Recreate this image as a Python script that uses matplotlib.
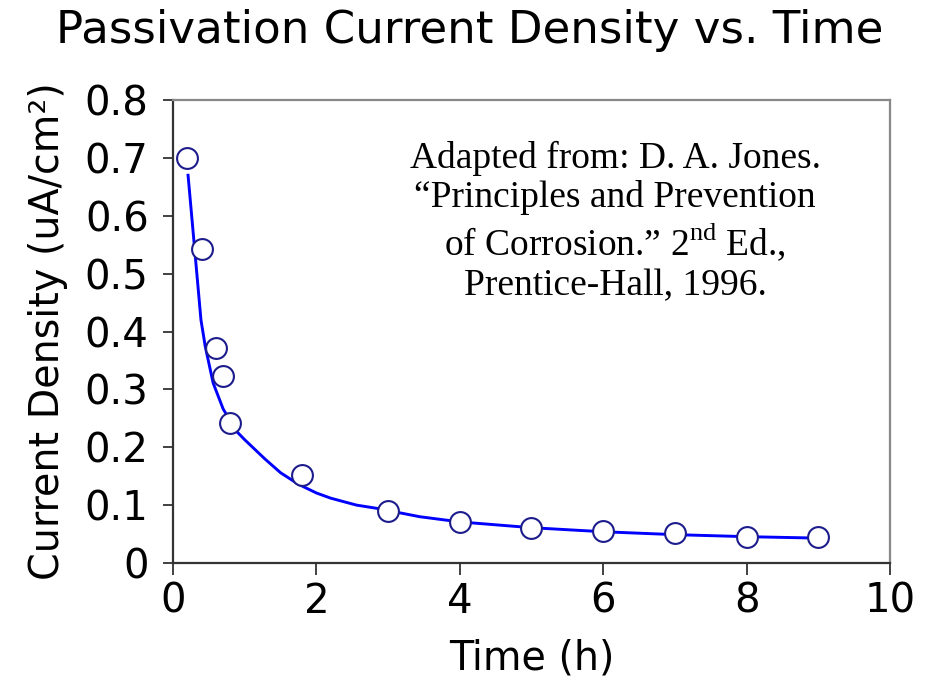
import matplotlib
matplotlib.use("Agg")
import matplotlib.pyplot as plt

# Measured data points
time_h = [0.2, 0.4, 0.6, 0.7, 0.8, 1.8, 3, 4, 5, 6, 7, 8, 9]
current = [0.70, 0.543, 0.371, 0.323, 0.242, 0.152, 0.090, 0.071, 0.061, 0.056, 0.051, 0.0455, 0.0455]

# Fitted curve
fit_x = [0.21, 0.39, 0.45, 0.56, 0.70, 0.89, 1.0, 1.28, 1.5, 1.75, 2.0, 2.2, 2.56, 2.84, 3.44, 4, 5, 6, 7, 8, 9]
fit_y = [0.670, 0.420, 0.374, 0.311, 0.266, 0.227, 0.213, 0.180, 0.156, 0.136, 0.121, 0.112, 0.100, 0.0945, 0.080, 0.071, 0.061, 0.054, 0.049, 0.0455, 0.043]

x_ticks = [0, 2, 4, 6, 8, 10]
y_ticks = [0, 0.1, 0.2, 0.3, 0.4, 0.5, 0.6, 0.7, 0.8]
y_tick_labels = ["0", "0.1", "0.2", "0.3", "0.4", "0.5", "0.6", "0.7", "0.8"]

plt.rcParams['mathtext.fontset'] = 'custom'
plt.rcParams['mathtext.rm'] = 'Liberation Serif'

fig = plt.figure(figsize=(9.28, 6.78), dpi=100)
ax = fig.add_axes([173/928, 1 - 563/678, (890 - 173)/928, (563 - 100)/678])

ax.plot(fit_x, fit_y, color='#0000ff', lw=2.1, zorder=2)
ax.plot(time_h, current, linestyle='none', marker='o', ms=15, mfc='white',
        mec='#1c1c8c', mew=1.5, zorder=3)

ax.set_xlim(0, 10)
ax.set_ylim(0, 0.8)
ax.set_xticks(x_ticks)
ax.set_xticklabels([str(t) for t in x_ticks])
ax.set_yticks(y_ticks)
ax.set_yticklabels(y_tick_labels)

for s in ['left', 'bottom']:
    ax.spines[s].set_color('#333333')
    ax.spines[s].set_linewidth(1.6)
for s in ['top', 'right']:
    ax.spines[s].set_color('#888888')
    ax.spines[s].set_linewidth(1.6)

ax.tick_params(axis='both', which='both', direction='out', color='#333333', width=1.3,
               labelsize=29, top=False, right=False)
ax.tick_params(axis='y', length=7.5, pad=10)
ax.tick_params(axis='x', length=8.5, pad=5)

ax.set_xlabel("Time (h)", fontsize=28.5, labelpad=12)
ax.set_ylabel("Current Density (uA/cm²)", fontsize=28.5, labelpad=12)

fig.suptitle("Passivation Current Density vs. Time", fontsize=32.5, x=470/928, y=1 - 31/678, va='center')

ax.text(615/928, 1 - 222/678,
        "Adapted from: D. A. Jones.\n\u201cPrinciples and Prevention\nof Corrosion.\u201d 2$^{\\mathrm{nd}}$ Ed.,\nPrentice-Hall, 1996.",
        transform=fig.transFigure, ha='center', va='center', multialignment='center',
        fontsize=27, family='Liberation Serif', linespacing=1.17)

fig.savefig("out.png", dpi=100)
